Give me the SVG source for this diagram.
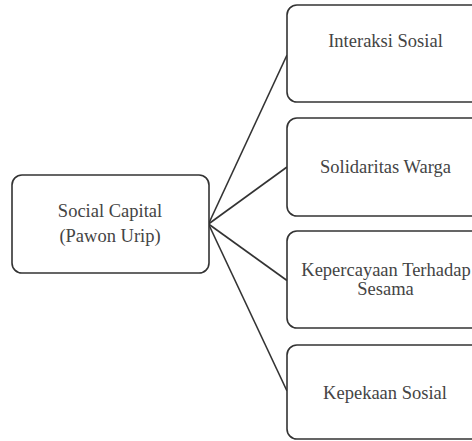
<svg xmlns="http://www.w3.org/2000/svg" width="472" height="441" viewBox="0 0 472 441">
<style>
.box{fill:#fff;stroke:#333;stroke-width:1.6}
.t{font-family:"Liberation Serif","Times New Roman",serif;font-size:18.5px;fill:#444;text-anchor:middle}
.c{stroke:#333;stroke-width:1.6;fill:none}
</style>
<rect width="472" height="441" fill="#fff"/>
<g id="connectors">
<line class="c" x1="208.5" y1="224" x2="287" y2="55"/>
<line class="c" x1="208.5" y1="224" x2="287" y2="167"/>
<line class="c" x1="208.5" y1="224" x2="287" y2="280.5"/>
<line class="c" x1="208.5" y1="224" x2="287" y2="391"/>
</g>
<g id="social-capital">
<rect class="box" x="12" y="175" width="197" height="98" rx="10"/>
<text class="t" x="110" y="217">Social Capital</text>
<text class="t" x="110" y="242">(Pawon Urip)</text>
</g>
<g id="interaksi-sosial">
<rect class="box" x="287" y="5" width="197" height="97" rx="10"/>
<text class="t" x="385.5" y="47">Interaksi Sosial</text>
</g>
<g id="solidaritas-warga">
<rect class="box" x="287" y="118" width="197" height="98" rx="10"/>
<text class="t" x="385.5" y="173">Solidaritas Warga</text>
</g>
<g id="kepercayaan">
<rect class="box" x="287" y="231" width="197" height="97" rx="10"/>
<text class="t" x="386" y="276">Kepercayaan Terhadap</text>
<text class="t" x="385.5" y="295">Sesama</text>
</g>
<g id="kepekaan-sosial">
<rect class="box" x="287" y="345" width="197" height="94" rx="10"/>
<text class="t" x="385" y="399">Kepekaan Sosial</text>
</g>
</svg>
